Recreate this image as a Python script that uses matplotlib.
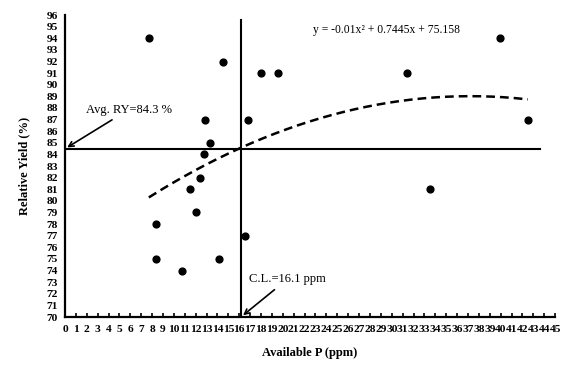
import numpy as np
import matplotlib.pyplot as plt

plt.rcParams['font.family'] = ['Liberation Serif', 'DejaVu Serif']

# data
avail_p = [7.7, 14.5, 18.0, 19.6, 12.9, 16.8, 13.3, 12.8, 12.4, 11.5,
           12.0, 8.4, 16.5, 8.4, 14.1, 10.7, 39.9, 31.4, 42.5, 33.5]
rel_yield = [94, 92, 91, 91, 87, 87, 85, 84, 82, 81,
             79, 78, 77, 75, 75, 74, 94, 91, 87, 81]

# trendline coefficients as printed
a2, a1, a0 = -0.01, 0.7445, 75.158
fit_range = (7.7, 42.5)

avg_ry = 84.5
crit_level = 16.15

fig = plt.figure(figsize=(5.67, 3.67), dpi=100)
ax = fig.add_axes([0.1146, 0.1362, 0.8644, 0.8228])

ax.scatter(avail_p, rel_yield, s=24, color='black', zorder=3)

xs = np.linspace(fit_range[0], fit_range[1], 200)
ax.plot(xs, a2 * xs**2 + a1 * xs + a0, color='black', lw=1.8, ls=(0, (3.5, 2)))

ax.plot([0, 43.6], [avg_ry, avg_ry], color='black', lw=1.5)
ax.plot([crit_level, crit_level], [70, 95.6], color='black', lw=1.5)

ax.set_xlim(0, 45)
ax.set_ylim(70, 96)
ax.set_xticks(range(0, 46))
ax.set_yticks(range(70, 97))
ax.tick_params(axis='x', direction='in', length=3, width=1.2, pad=6, labelsize=8.2)
ax.tick_params(axis='y', direction='in', length=0, pad=5, labelsize=8.2)
for lab in ax.get_xticklabels() + ax.get_yticklabels():
    lab.set_fontweight('bold')

for s in ['top', 'right']:
    ax.spines[s].set_visible(False)
for s in ['left', 'bottom']:
    ax.spines[s].set_linewidth(1.6)

ax.set_xlabel('Available P (ppm)', fontsize=9, fontweight='bold', labelpad=9)
ax.set_ylabel('Relative Yield (%)', fontsize=9, fontweight='bold', labelpad=12)

ax.annotate('Avg. RY=84.3 %', xy=(0.2, avg_ry + 0.1), xytext=(1.9, 87.6),
            fontsize=9, arrowprops=dict(arrowstyle='->', color='black', lw=1.2,
                                        shrinkA=2, shrinkB=0))
ax.annotate('C.L.=16.1 ppm', xy=(crit_level + 0.2, 70.15), xytext=(16.9, 73.0),
            fontsize=9, arrowprops=dict(arrowstyle='->', color='black', lw=1.2,
                                        shrinkA=2, shrinkB=0))
ax.text(22.8, 94.7, 'y = -0.01x² + 0.7445x + 75.158', fontsize=8.4, va='center')

fig.savefig('out.png', dpi=100)
